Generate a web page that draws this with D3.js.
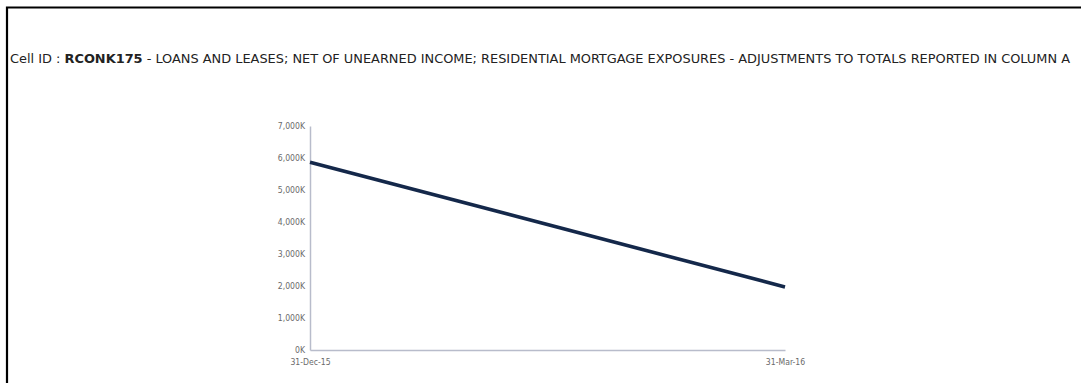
<!DOCTYPE html>
<html>
<head>
<meta charset="utf-8">
<script src="https://cdn.jsdelivr.net/npm/d3@7"></script>
<style>
  html, body { margin: 0; padding: 0; background: #fff; }
  svg { display: block; }
</style>
</head>
<body>
<svg id="chart" width="1081" height="383"></svg>
<script>
// Reporting periods and values (in thousands)
const periods = ["31-Dec-15", "31-Mar-16"];
const values = [5870, 1970];
const yTicks = [0, 1000, 2000, 3000, 4000, 5000, 6000, 7000];
const cellId = "RCONK175";
const cellDesc = " - LOANS AND LEASES; NET OF UNEARNED INCOME; RESIDENTIAL MORTGAGE EXPOSURES - ADJUSTMENTS TO TOTALS REPORTED IN COLUMN A";

const svg = d3.select("#chart");
const W = 1081, H = 383;

// panel frame (top & left edges visible)
svg.append("path")
  .attr("d", `M7,${H} L7,7.5 L${W},7.5`)
  .attr("fill", "none")
  .attr("stroke", "#000")
  .attr("stroke-width", 2.2);

// title
const title = svg.append("text")
  .attr("x", 10).attr("y", 63)
  .attr("font-family", "'DejaVu Sans Condensed', 'DejaVu Sans', sans-serif")
  .attr("font-size", 12.5)
  .attr("fill", "#222")
  .attr("textLength", 1060)
  .attr("lengthAdjust", "spacingAndGlyphs");
title.append("tspan").text("Cell ID : ");
title.append("tspan").attr("font-weight", "bold").text(cellId);
title.append("tspan").text(cellDesc);

const margin = { left: 310, right: W - 785, top: 126, bottom: H - 350 };

const x = d3.scalePoint()
  .domain(periods)
  .range([margin.left, W - margin.right]);

const y = d3.scaleLinear()
  .domain([0, 7000])
  .range([H - margin.bottom, margin.top]);

const axisColor = "#b8bccb";
const labelColor = "#6a6a6a";
const tickFont = "'DejaVu Sans Condensed', 'DejaVu Sans', sans-serif";

// y axis
const yAxis = svg.append("g")
  .attr("transform", `translate(${margin.left},0)`)
  .call(d3.axisLeft(y).tickValues(yTicks).tickSize(0).tickPadding(5)
    .tickFormat(d => d3.format(",")(d) + "K"));
yAxis.select(".domain").attr("stroke", axisColor).attr("stroke-width", 1.5);
yAxis.selectAll("text")
  .attr("font-family", tickFont).attr("font-size", 8.6).attr("fill", labelColor);

// x axis
const xAxis = svg.append("g")
  .attr("transform", `translate(0,${H - margin.bottom})`)
  .call(d3.axisBottom(x).tickSize(0).tickPadding(9));
xAxis.select(".domain").attr("stroke", axisColor).attr("stroke-width", 1.5);
xAxis.selectAll("text")
  .attr("font-family", tickFont).attr("font-size", 8.6).attr("fill", labelColor);

// series line
const line = d3.line()
  .x((d, i) => x(periods[i]))
  .y(d => y(d));

svg.append("path")
  .datum(values)
  .attr("d", line)
  .attr("fill", "none")
  .attr("stroke", "#14284a")
  .attr("stroke-width", 3.6);
</script>
</body>
</html>
